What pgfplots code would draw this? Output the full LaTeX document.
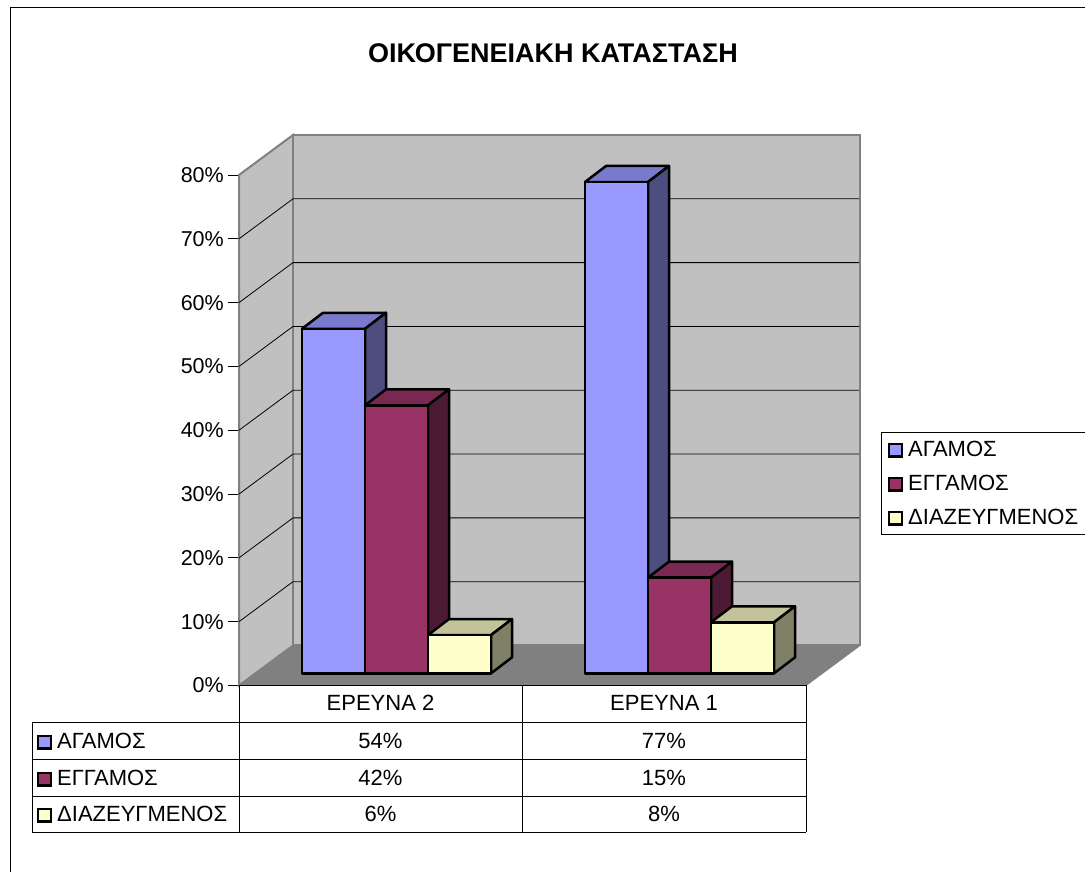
\documentclass[border=0pt]{standalone}
\usepackage{fontspec}
\setmainfont{Liberation Sans}
\usepackage{pgfplots}
\pgfplotsset{compat=1.18}
\definecolor{wall}{HTML}{C0C0C0}
\definecolor{wallline}{HTML}{808080}
\definecolor{floorc}{HTML}{808080}
\definecolor{serA}{HTML}{9999FF}\definecolor{serAs}{HTML}{4D4D80}\definecolor{serAt}{HTML}{7A7ACC}
\definecolor{serB}{HTML}{993366}\definecolor{serBs}{HTML}{4D1A33}\definecolor{serBt}{HTML}{7A2952}
\definecolor{serC}{HTML}{FFFFCC}\definecolor{serCs}{HTML}{808066}\definecolor{serCt}{HTML}{C2C29B}
\newcommand\fs{\fontsize{22}{26}\selectfont}
% one 3-D column: left pixel x, value in percent, three colours
\newcommand\threedbar[5]{%
  \pgfmathsetmacro\xa{#1}\pgfmathsetmacro\xb{#1+63}\pgfmathsetmacro\xc{#1+84}%
  \pgfmathsetmacro\ya{1.9}\pgfmathsetmacro\yb{#2+1.9}\pgfmathsetmacro\yc{#2+1.9+2.51}\pgfmathsetmacro\yd{1.9+2.51}%
  \pgfmathsetmacro\xt{#1+21}%
  \addplot[draw=black,line width=2.5pt,fill=#5,line join=round,forget plot] coordinates {(\xa,\yb)(\xb,\yb)(\xc,\yc)(\xt,\yc)} --cycle;
  \addplot[draw=black,line width=2.5pt,fill=#4,line join=round,forget plot] coordinates {(\xb,\ya)(\xc,\yd)(\xc,\yc)(\xb,\yb)} --cycle;
  \addplot[draw=black,line width=2.5pt,fill=#3,line join=round,forget plot] coordinates {(\xa,\ya)(\xb,\ya)(\xb,\yb)(\xa,\yb)} --cycle;
}
\begin{document}
\begin{tikzpicture}
\useasboundingbox (0,0) rectangle (1085pt,872pt);
\fill[white] (0,0) rectangle (1085pt,872pt);
\begin{scope}[x=1pt,y=-1pt,shift={(0pt,872pt)}]
  \draw[black,line width=1pt] (10.5,900) -- (10.5,7.5) -- (1100,7.5);
\end{scope}
\begin{axis}[
  at={(239pt,186.5pt)},anchor=south west,
  scale only axis,width=567pt,height=510.5pt,
  xmin=239,xmax=806,ymin=0,ymax=80,
  clip=false,
  axis x line=none,
  axis y line=left,
  axis line style={wallline,line width=1.5pt,-},
  y axis line style={-},
  ytick={0,10,20,30,40,50,60,70,80},
  yticklabels={0\%,10\%,20\%,30\%,40\%,50\%,60\%,70\%,80\%},
  tick align=outside,
  major tick length=11pt,
  tick style={black,line width=0.8pt},
  tick label style={font=\fontsize{21.5}{26}\selectfont,inner sep=0pt,black},
  yticklabel style={xshift=-4pt},
]
% walls and floor (pixel x, percent y; depth = 54 px, 6.27 %)
\path[fill=wall,draw=wallline,line width=2pt] (axis cs:239,0) -- (axis cs:293,6.27) -- (axis cs:293,86.27) -- (axis cs:239,80) -- cycle;
\path[fill=wall,draw=wallline,line width=2pt] (axis cs:293,6.27) -- (axis cs:860,6.27) -- (axis cs:860,86.27) -- (axis cs:293,86.27) -- cycle;
\path[fill=floorc] (axis cs:239,0) -- (axis cs:293,6.27) -- (axis cs:860,6.27) -- (axis cs:806,0) -- cycle;
\pgfplotsinvokeforeach{10,20,30,40,50,60,70}{
  \draw[black,line width=0.8pt] (axis cs:239,#1) -- (axis cs:293,#1+6.27) -- (axis cs:859,#1+6.27);
}
\draw[wallline,line width=1pt] (axis cs:806,0) -- (axis cs:860,6.27);
\threedbar{302}{54}{serA}{serAs}{serAt}
\threedbar{365}{42}{serB}{serBs}{serBt}
\threedbar{428}{6}{serC}{serCs}{serCt}
\threedbar{585}{77}{serA}{serAs}{serAt}
\threedbar{648}{15}{serB}{serBs}{serBt}
\threedbar{711}{8}{serC}{serCs}{serCt}
\end{axis}
\begin{scope}[x=1pt,y=-1pt,shift={(0pt,872pt)},font=\fs]
  % title
  \node[font=\fontsize{27}{31}\selectfont\bfseries] at (553,53) {ΟΙΚΟΓΕΝΕΙΑΚΗ ΚΑΤΑΣΤΑΣΗ};
  % data table
  \draw[black,line width=1pt] (239,685.5) -- (806,685.5);
  \foreach \yy in {723,760,797,832.5} \draw[black,line width=1pt] (32,\yy) -- (806,\yy);
  \foreach \xx in {239,522.5,806} \draw[black,line width=1pt] (\xx,685.5) -- (\xx,832.5);
  \draw[black,line width=1pt] (32,723) -- (32,832.5);
  \node[anchor=base] at (380.5,711) {ΕΡΕΥΝΑ 2};
  \node[anchor=base] at (664,711) {ΕΡΕΥΝΑ 1};
  \foreach \yy/\aa/\bb/\nn/\cc in {749/54/77/ΑΓΑΜΟΣ/serA,786/42/15/ΕΓΓΑΜΟΣ/serB,822/6/8/ΔΙΑΖΕΥΓΜΕΝΟΣ/serC}{
    \node[anchor=base] at (380.5,\yy) {\aa\%};
    \node[anchor=base] at (664,\yy) {\bb\%};
    \node[anchor=base west,inner sep=0pt] at (57,\yy) {\nn};
    \filldraw[fill=\cc,draw=black,line width=2.2pt] (38,\yy-13) rectangle (51,\yy-0.5);
  }
  % legend
  \draw[black,line width=1pt] (1100,433) -- (881.5,433) -- (881.5,535) -- (1100,535);
  \foreach \yy/\nn/\cc in {457/ΑΓΑΜΟΣ/serA,491/ΕΓΓΑΜΟΣ/serB,525/ΔΙΑΖΕΥΓΜΕΝΟΣ/serC}{
    \node[anchor=base west,inner sep=0pt] at (908,\yy) {\nn};
    \filldraw[fill=\cc,draw=black,line width=2.2pt] (889,\yy-13) rectangle (902,\yy-0.5);
  }
\end{scope}
\end{tikzpicture}
\end{document}
